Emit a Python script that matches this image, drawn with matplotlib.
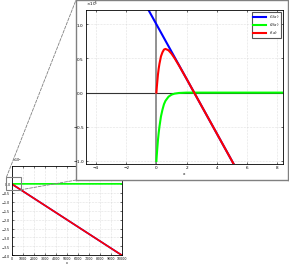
import numpy as np
import matplotlib
matplotlib.use('Agg')
import matplotlib.pyplot as plt
from matplotlib.patches import Rectangle, ConnectionPatch

# values (y in absolute units)
x_blue = [-5, 10000]
y_blue = [3.0e5, -3999e5]

x_curve = [0, 0.02, 0.05, 0.1, 0.15, 0.2, 0.3, 0.4, 0.5, 0.6, 0.8, 1.0, 1.2, 1.5, 2.0, 10000]
y_green = [-1.0, -0.93, -0.84, -0.70, -0.59, -0.50, -0.35, -0.25, -0.17, -0.12,
           -0.06, -0.03, -0.015, -0.005, 0.0, 0.0]
y_red = [0.0, 0.062, 0.14, 0.26, 0.35, 0.42, 0.53, 0.59, 0.63, 0.64,
         0.62, 0.57, 0.505, 0.395, 0.2, -3999.0]
y_green = [v * 1e5 for v in y_green]
y_red = [v * 1e5 for v in y_red]

labels = ['$f_1(x)$', '$f_2(x)$', '$f(x)$']
colors = ['#0000ff', '#00ff00', '#ff0000']

main_xticks = np.arange(0, 10001, 1000)
main_yticks = np.arange(-4e8, 0.1, 0.5e8)
inset_xticks = [-4, -2, 0, 2, 4, 6, 8]
inset_yticks = [-1e5, -0.5e5, 0, 0.5e5, 1e5]


def style(ax, fs):
    ax.grid(True, linestyle=':', linewidth=0.4, color='#c8c8c8')
    ax.tick_params(direction='in', length=1.5, width=0.4, labelsize=fs, pad=1.2,
                   top=True, right=True)
    for s in ax.spines.values():
        s.set_linewidth(0.6)
    ax.ticklabel_format(axis='y', style='sci', scilimits=(0, 0), useMathText=True)
    ax.yaxis.get_offset_text().set_fontsize(fs)


fig = plt.figure(figsize=(2.89, 2.66), dpi=100)

# main axes
ax = fig.add_axes([0.040, 0.040, 0.382, 0.336])
ax.plot(x_blue, y_blue, color=colors[0], lw=1.2)
ax.plot(x_curve, y_green, color=colors[1], lw=1.2)
ax.plot(x_curve, y_red, color=colors[2], lw=1.2)
ax.set_xlim(0, 10000)
ax.set_ylim(-4e8, 1e8)
ax.set_xticks(main_xticks)
ax.set_yticks(main_yticks)
style(ax, 2.3)
ax.tick_params(axis='y', pad=0.6)
ax.set_xlabel('x', fontsize=2.3, labelpad=0.3)

# zoom marker on main axes
rx, ry = (-460, 840), (-0.33e8, 0.38e8)
ax.add_patch(Rectangle((rx[0], ry[0]), rx[1] - rx[0], ry[1] - ry[0], fill=False,
                       edgecolor='#808080', lw=0.8, clip_on=False, zorder=5))

# frame behind inset
frame = fig.add_axes([0.263, 0.323, 0.734, 0.677], zorder=1)
frame.set_xticks([])
frame.set_yticks([])
for s in frame.spines.values():
    s.set_edgecolor('#808080')
    s.set_linewidth(1.0)

for xa, ya, xb, yb in [(rx[0], ry[1], 0, 1), (rx[1], ry[0], 0, 0)]:
    con = ConnectionPatch(xyA=(xa, ya), coordsA=ax.transData,
                          xyB=(xb, yb), coordsB=frame.transAxes,
                          linestyle='--', color='#808080', lw=0.6)
    con.set_zorder(0.5)
    fig.add_artist(con)

# inset axes
ins = fig.add_axes([0.2976, 0.3835, 0.6817, 0.579], zorder=2)
ins.axhline(0, color='#333333', lw=0.8)
ins.axvline(0, color='#808080', lw=1.2)
ins.plot(x_blue, y_blue, color=colors[0], lw=1.5, label=labels[0])
ins.plot(x_curve, y_green, color=colors[1], lw=1.5, label=labels[1])
ins.plot(x_curve, y_red, color=colors[2], lw=1.5, label=labels[2])
ins.set_xlim(-4.66, 8.38)
ins.set_ylim(-1.045e5, 1.21e5)
ins.set_xticks(inset_xticks)
ins.set_yticks(inset_yticks)
style(ins, 3)
ins.set_xlabel('x', fontsize=3, labelpad=1.5)
leg = ins.legend(loc='upper right', fontsize=3, handlelength=3, fancybox=False,
                 edgecolor='#555555', framealpha=1, borderpad=0.3, labelspacing=0.1)
leg.get_frame().set_linewidth(0.8)

fig.savefig('out.png', dpi=100)
